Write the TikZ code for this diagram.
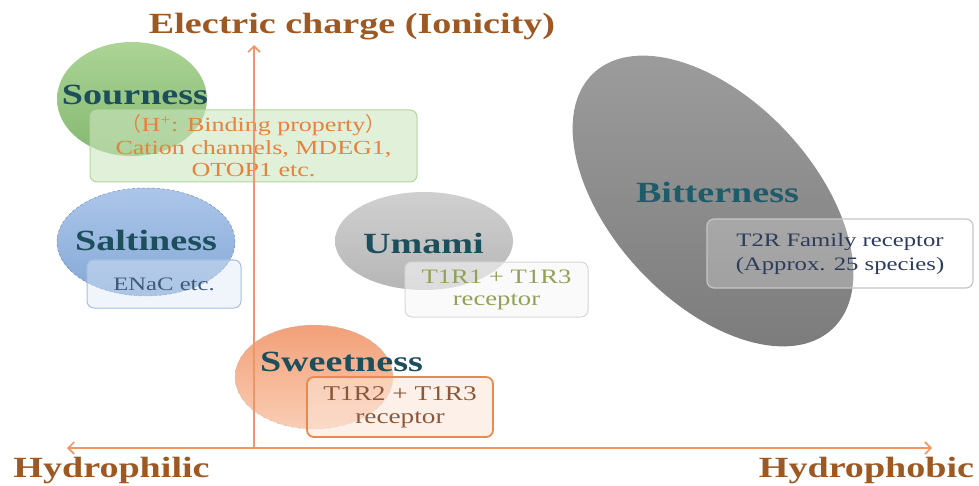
\documentclass[tikz,border=0pt]{standalone}
\usepackage{fontspec}
\setmainfont[FakeStretch=1.3]{Liberation Serif}
\newfontfamily\cjk{Noto Sans CJK SC}
\usetikzlibrary{shapes.geometric,arrows.meta}
\definecolor{brownlab}{RGB}{158,88,34}
\definecolor{axisor}{RGB}{240,150,100}
\definecolor{tealtxt}{RGB}{28,78,92}
\definecolor{tealbit}{RGB}{30,92,106}
\definecolor{sourtxt}{RGB}{230,130,60}
\definecolor{saltxt}{RGB}{62,90,122}
\definecolor{umatxt}{RGB}{145,162,88}
\definecolor{bittxt}{RGB}{45,60,90}
\definecolor{swetxt}{RGB}{140,88,58}
\definecolor{greenA}{RGB}{172,212,150}
\definecolor{greenB}{RGB}{132,184,112}
\definecolor{blueA}{RGB}{172,198,234}
\definecolor{blueB}{RGB}{132,168,214}
\definecolor{grayA}{RGB}{208,208,208}
\definecolor{grayB}{RGB}{182,182,182}
\definecolor{bitA}{RGB}{158,158,158}
\definecolor{bitB}{RGB}{122,122,122}
\definecolor{sweA}{RGB}{242,160,120}
\definecolor{sweB}{RGB}{250,205,180}
\begin{document}
\begin{tikzpicture}[x=1pt,y=-1pt,
  blob/.style={ellipse, inner sep=0pt},
  taste/.style={font=\fontsize{29.3}{32}\selectfont\bfseries, text=tealtxt, inner sep=0pt},
  axislab/.style={font=\fontsize{29.3}{32}\selectfont\bfseries, text=brownlab, inner sep=0pt},
  rbox/.style={rounded corners=7pt, align=center, inner sep=0pt, text opacity=1,
    font=\fontsize{20}{22.5}\selectfont},
  axisline/.style={draw=axisor, line width=2pt,
    arrows={-{Straight Barb[length=6pt,width=12pt,line width=1.6pt]}}},
]
\useasboundingbox (0,0) rectangle (979,486);

% ellipses
\node[blob, top color=greenA, bottom color=greenB, minimum width=150pt, minimum height=114pt] (sourE) at (132,99) {};
\node[blob, top color=blueA, bottom color=blueB, draw=blueB!85!black, densely dashed, line width=0.5pt, minimum width=178pt, minimum height=108pt] (saltE) at (146,242) {};
\node[blob, top color=grayA, bottom color=grayB, minimum width=178pt, minimum height=98pt] (umaE) at (424,241) {};
\node[blob, top color=bitA, bottom color=bitB, minimum width=350pt, minimum height=202pt, rotate=-47] (bitE) at (713,201) {};
\node[blob, top color=sweA, bottom color=sweB, draw=gray!50, dash dot, line width=0.5pt, minimum width=158pt, minimum height=104pt] (sweE) at (314,377) {};

% boxes
\node[rbox, draw={rgb,255:red,178;green,212;blue,160}, line width=1pt, fill={rgb,255:red,205;green,230;blue,192}, fill opacity=0.6,
  text=sourtxt, minimum width=327pt, minimum height=72pt] (sourB) at (253.5,146)
  {{\cjk （}H\textsuperscript{+}: Binding property{\cjk ）}\\Cation channels, MDEG1,\\OTOP1 etc.};
\node[rbox, draw={rgb,255:red,165;green,192;blue,226}, line width=1pt, fill={rgb,255:red,222;green,233;blue,248}, fill opacity=0.45,
  text=saltxt, font=\fontsize{19}{22}\selectfont, minimum width=154pt, minimum height=48pt] (saltB) at (164,284) {ENaC etc.};
\node[rbox, draw={rgb,255:red,215;green,215;blue,215}, line width=1pt, fill={rgb,255:red,246;green,246;blue,246}, fill opacity=0.6,
  text=umatxt, font=\fontsize{20.5}{22}\selectfont, minimum width=183pt, minimum height=55pt] (umaB) at (496.5,289.5) {T1R1 + T1R3\\receptor};
\node[rbox, draw={rgb,255:red,198;green,198;blue,198}, line width=1.2pt, fill=white, fill opacity=0.25,
  text=bittxt, font=\fontsize{19}{24}\selectfont, minimum width=266pt, minimum height=69pt] (bitB) at (840,253.5) {T2R Family receptor\\(Approx. 25 species)};
\node[rbox, draw={rgb,255:red,232;green,138;blue,78}, line width=1.8pt, fill={rgb,255:red,252;green,228;blue,214}, fill opacity=0.55,
  text=swetxt, font=\fontsize{21}{23}\selectfont, minimum width=186pt, minimum height=60pt] (sweB) at (400,407) {T1R2 + T1R3\\receptor};

% taste labels
\node[taste] (sourT) at (135,95) {Sourness};
\node[taste] (saltT) at (146,240) {Saltiness};
\node[taste] (umaT) at (423.5,243) {Umami};
\node[taste, text=tealbit] (bitT) at (717.5,192) {Bitterness};
\node[taste] (sweT) at (341.5,362) {Sweetness};

% axes
\coordinate (O) at (254,448);
\coordinate (ytop) at (254,45);
\coordinate (xl) at (67,448);
\coordinate (xr) at (932,448);
\draw[axisline] (O) -- (ytop);
\draw[axisline, arrows={{Straight Barb[length=6pt,width=12pt,line width=1.6pt]}-{Straight Barb[length=6pt,width=12pt,line width=1.6pt]}}] (xl) -- (xr);

% axis labels
\node[axislab] (title) at (352,27) {Electric charge (Ionicity)};
\node[axislab] (hphil) at (111.5,470) {Hydrophilic};
\node[axislab] (hphob) at (866.5,470) {Hydrophobic};
\end{tikzpicture}
\end{document}
